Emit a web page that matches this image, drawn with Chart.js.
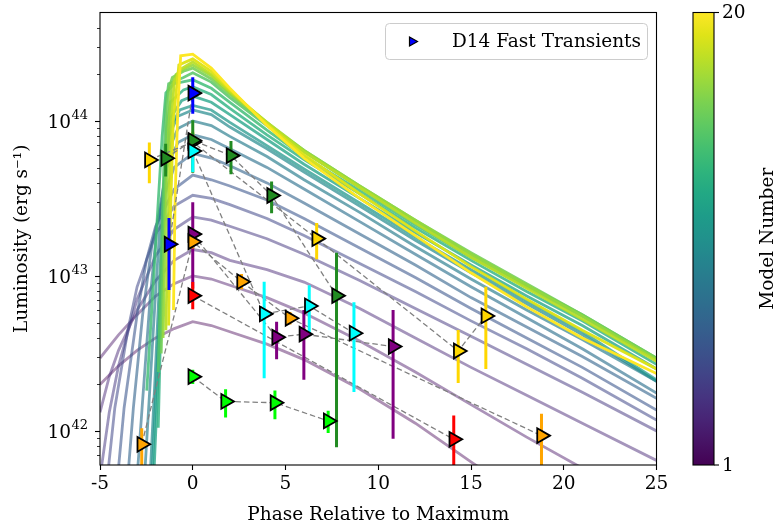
<!DOCTYPE html>
<html>
<head>
<meta charset="utf-8">
<script src="https://cdn.jsdelivr.net/npm/chart.js@4.4.1/dist/chart.umd.min.js"></script>
<style>
  html, body { margin: 0; padding: 0; background: #fff; }
</style>
</head>
<body>
<canvas id="lcChart" width="777" height="527"></canvas>
<script>
const FONT = "'DejaVu Serif', 'Liberation Serif', serif";

// axis ticks
const xTicks = [-5, 0, 5, 10, 15, 20, 25];
const yTicks = [7e41, 8e41, 9e41, 1e42, 2e42, 3e42, 4e42, 5e42, 6e42, 7e42, 8e42, 9e42,
  1e43, 2e43, 3e43, 4e43, 5e43, 6e43, 7e43, 8e43, 9e43, 1e44, 2e44, 3e44, 4e44];
const cbarTicks = [1, 20];

// model light curves, [phase (d), log10 L]
const m01 = [[-5, 42.30], [-4, 42.42], [-3, 42.52], [-2, 42.60], [-1, 42.66], [0, 42.705], [1, 42.68], [2, 42.64], [4, 42.56], [6, 42.46], [9, 42.27], [12, 42.05], [15, 41.80], [18, 41.56], [21, 41.33], [25, 41.05]];
const m02 = [[-5, 42.47], [-4, 42.62], [-3, 42.75], [-2, 42.87], [-1, 42.95], [0, 43.00], [1, 42.98], [2, 42.94], [4, 42.86], [6, 42.76], [9, 42.58], [12, 42.38], [15, 42.17], [18, 41.96], [21, 41.76], [25, 41.50]];
const m03 = [[-5, 42.12], [-4.5, 42.35], [-4, 42.52], [-3, 42.78], [-2, 42.97], [-1, 43.10], [0, 43.17], [1, 43.15], [2, 43.10], [4, 43.04], [6, 42.96], [9, 42.79], [12, 42.60], [15, 42.41], [18, 42.23], [21, 42.05], [25, 41.81]];
const m04 = [[-5, 41.70], [-4.5, 42.12], [-4, 42.42], [-3, 42.85], [-2, 43.13], [-1, 43.30], [0, 43.38], [1, 43.36], [2, 43.32], [4, 43.24], [6, 43.14], [9, 42.97], [12, 42.79], [15, 42.61], [18, 42.43], [21, 42.25], [25, 42.00]];
const m05 = [[-4.6, 41.70], [-4.2, 42.15], [-3.5, 42.65], [-3, 42.93], [-2, 43.27], [-1, 43.45], [0, 43.52], [1, 43.50], [2, 43.46], [4, 43.37], [6, 43.26], [9, 43.08], [12, 42.90], [15, 42.71], [18, 42.53], [21, 42.34], [25, 42.07]];
const m06 = [[-4.05, 41.70], [-3.7, 42.15], [-3, 42.75], [-2.5, 43.10], [-2, 43.32], [-1, 43.56], [0, 43.65], [1, 43.62], [2, 43.58], [4, 43.49], [6, 43.37], [9, 43.18], [12, 42.99], [15, 42.79], [18, 42.60], [21, 42.41], [25, 42.135]];
const m07 = [[-3.5, 41.70], [-3.2, 42.15], [-2.7, 42.75], [-2.2, 43.20], [-1.6, 43.50], [-1, 43.70], [0, 43.79], [1, 43.76], [2, 43.71], [4, 43.60], [6, 43.47], [9, 43.27], [12, 43.07], [15, 42.86], [18, 42.67], [21, 42.48], [25, 42.21]];
const m08 = [[-3.0, 41.70], [-2.7, 42.20], [-2.3, 42.85], [-1.9, 43.35], [-1.4, 43.70], [-0.8, 43.86], [0, 43.91], [1, 43.88], [2, 43.82], [4, 43.70], [6, 43.56], [9, 43.35], [12, 43.14], [15, 42.93], [18, 42.73], [21, 42.53], [25, 42.245]];
const m09 = [[-2.6, 41.70], [-2.3, 42.30], [-2, 42.90], [-1.7, 43.45], [-1.35, 43.80], [-0.8, 43.95], [0, 44.00], [1, 43.97], [2, 43.90], [4, 43.77], [6, 43.62], [9, 43.41], [12, 43.19], [15, 42.98], [18, 42.78], [21, 42.59], [25, 42.32]];
const m10 = [[-2.3, 41.70], [-2.05, 42.30], [-1.8, 42.95], [-1.55, 43.55], [-1.3, 43.90], [-0.8, 44.03], [0, 44.07], [1, 44.04], [2, 43.96], [4, 43.82], [6, 43.67], [9, 43.45], [12, 43.23], [15, 43.02], [18, 42.82], [21, 42.62], [25, 42.32]];
const m11 = [[-2.2, 41.70], [-1.95, 42.35], [-1.7, 43.00], [-1.5, 43.60], [-1.25, 43.95], [-0.7, 44.07], [0, 44.10], [1, 44.07], [2, 43.99], [4, 43.84], [6, 43.69], [9, 43.47], [12, 43.25], [15, 43.04], [18, 42.84], [21, 42.64], [25, 42.33]];
const m12 = [[-2.1, 41.70], [-1.85, 42.40], [-1.65, 43.10], [-1.45, 43.70], [-1.2, 44.02], [-0.6, 44.13], [0, 44.16], [1, 44.12], [2, 44.04], [4, 43.88], [6, 43.72], [9, 43.50], [12, 43.28], [15, 43.07], [18, 42.87], [21, 42.68], [25, 42.40]];
const m13 = [[-1.86, 42.02], [-1.7, 42.80], [-1.55, 43.50], [-1.4, 43.95], [-1.2, 44.12], [-0.5, 44.20], [0, 44.22], [1, 44.17], [2, 44.08], [4, 43.91], [6, 43.75], [9, 43.53], [12, 43.31], [15, 43.10], [18, 42.90], [21, 42.71], [25, 42.43]];
const m14 = [[-2.48, 42.26], [-2.2, 42.80], [-1.9, 43.40], [-1.65, 43.90], [-1.45, 44.18], [-1, 44.24], [0, 44.265], [1, 44.21], [2, 44.12], [4, 43.94], [6, 43.77], [9, 43.55], [12, 43.33], [15, 43.12], [18, 42.93], [21, 42.74], [25, 42.46]];
const m15 = [[-1.86, 42.38], [-1.7, 43.10], [-1.55, 43.75], [-1.45, 44.10], [-1.3, 44.24], [-0.5, 44.28], [0, 44.31], [1, 44.25], [2, 44.15], [4, 43.97], [6, 43.80], [9, 43.57], [12, 43.35], [15, 43.14], [18, 42.94], [21, 42.75], [25, 42.47]];
const m16 = [[-1.7, 42.50], [-1.55, 43.30], [-1.42, 43.90], [-1.3, 44.20], [-1.1, 44.28], [-0.5, 44.32], [0, 44.34], [1, 44.27], [2, 44.17], [4, 43.98], [6, 43.81], [9, 43.58], [12, 43.36], [15, 43.15], [18, 42.95], [21, 42.75], [25, 42.47]];
const m17 = [[-1.6, 42.60], [-1.45, 43.40], [-1.3, 43.95], [-1.15, 44.22], [-0.9, 44.30], [-0.4, 44.34], [0, 44.36], [1, 44.29], [2, 44.18], [4, 43.99], [6, 43.81], [9, 43.58], [12, 43.36], [15, 43.14], [18, 42.94], [21, 42.74], [25, 42.46]];
const m18 = [[-1.45, 42.65], [-1.3, 43.45], [-1.15, 44.00], [-1.0, 44.25], [-0.7, 44.33], [0, 44.38], [1, 44.30], [2, 44.19], [4, 43.99], [6, 43.80], [9, 43.57], [12, 43.34], [15, 43.12], [18, 42.92], [21, 42.72], [25, 42.45]];
const m19 = [[-1.3, 42.68], [-1.2, 43.40], [-1.05, 44.00], [-0.75, 44.36], [0, 44.40], [1, 44.32], [2, 44.20], [4, 43.98], [6, 43.78], [9, 43.53], [12, 43.29], [15, 43.06], [18, 42.85], [21, 42.65], [25, 42.40]];
const m20 = [[-1.04, 42.78], [-0.95, 43.50], [-0.8, 44.10], [-0.65, 44.42], [0, 44.43], [1, 44.34], [2, 44.21], [4, 43.97], [6, 43.76], [9, 43.50], [12, 43.26], [15, 43.02], [18, 42.80], [21, 42.60], [25, 42.37]];
const modelCurves = [m01, m02, m03, m04, m05, m06, m07, m08, m09, m10,
  m11, m12, m13, m14, m15, m16, m17, m18, m19, m20];

// fast transients: phase (d), L (erg/s), lower / upper error
const blueT = [-1.28, 0];
const blueL = [1.60e43, 1.51e44];
const blueLo = [8.1e42, 1.11e44];
const blueHi = [2.36e43, 1.91e44];

const goldT = [-2.34, 0, 6.68, 14.31, 15.8];
const goldL = [5.60e43, 7.3e43, 1.74e43, 3.28e42, 5.52e42];
const goldLo = [3.96e43, 6.3e43, 1.28e43, 2.04e42, 2.51e42];
const goldHi = [7.24e43, 8.5e43, 2.19e43, 4.47e42, 8.51e42];

const greenT = [-1.46, 0, 2.06, 4.25, 7.75];
const greenL = [5.74e43, 7.48e43, 5.97e43, 3.30e43, 7.46e42];
const greenLo = [4.37e43, 4.63e43, 4.53e43, 2.54e43, 7.85e41];
const greenHi = [7.11e43, 1.01e44, 7.41e43, 4.06e43, 1.41e43];

const cyanT = [0, 3.85, 6.28, 8.69];
const cyanL = [6.40e43, 5.69e42, 6.40e42, 4.27e42];
const cyanLo = [4.68e43, 2.19e42, 4.27e42, 1.78e42];
const cyanHi = [7.9e43, 9.18e42, 8.71e42, 6.76e42];

const purpleT = [0, 4.52, 5.99, 10.8];
const purpleL = [1.86e43, 4.02e42, 4.21e42, 3.50e42];
const purpleLo = [8.3e42, 2.90e42, 2.14e42, 8.9e41];
const purpleHi = [2.99e43, 5.07e42, 6.03e42, 6.03e42];

const orangeT = [-2.75, 0, 2.63, 5.24, 18.8];
const orangeL = [8.2e41, 1.66e43, 9.18e42, 5.33e42, 9.33e41];
const orangeLo = [5.6e41, 1.5e43, 8.2e42, 4.86e42, 5.9e41];
const orangeHi = [1.04e42, 1.84e43, 1.03e43, 5.85e42, 1.29e42];

const redT = [0, 14.07];
const redL = [7.46e42, 8.83e41];
const redLo = [6.1e42, 5.9e41];
const redHi = [9.12e42, 1.26e42];

const limeT = [0, 1.77, 4.43, 7.3];
const limeL = [2.24e42, 1.55e42, 1.52e42, 1.16e42];
const limeLo = [2.01e42, 1.22e42, 1.19e42, 9.7e41];
const limeHi = [2.48e42, 1.86e42, 1.82e42, 1.35e42];

const transients = [
  { color: '#0000ff', t: blueT, L: blueL, lo: blueLo, hi: blueHi },
  { color: '#ffd700', t: goldT, L: goldL, lo: goldLo, hi: goldHi },
  { color: '#228b22', t: greenT, L: greenL, lo: greenLo, hi: greenHi },
  { color: '#00ffff', t: cyanT, L: cyanL, lo: cyanLo, hi: cyanHi },
  { color: '#800080', t: purpleT, L: purpleL, lo: purpleLo, hi: purpleHi },
  { color: '#ffa500', t: orangeT, L: orangeL, lo: orangeLo, hi: orangeHi },
  { color: '#ff0000', t: redT, L: redL, lo: redLo, hi: redHi },
  { color: '#00ff00', t: limeT, L: limeL, lo: limeLo, hi: limeHi },
];

// viridis colormap
const viridisHex = ['#440154', '#471365', '#482475', '#463480', '#414487', '#3b528b', '#355f8d',
  '#2f6c8e', '#2a788e', '#25848e', '#21918c', '#1e9c89', '#22a884', '#2fb47c', '#44bf70',
  '#5ec962', '#7ad151', '#9bd93c', '#bddf26', '#dfe318', '#fde725'];

function hexRGB(h) {
  return [1, 3, 5].map(i => parseInt(h.slice(i, i + 2), 16));
}

function viridis(t, a) {
  const s = Math.min(Math.max(t, 0), 1) * (viridisHex.length - 1);
  const i = Math.min(Math.floor(s), viridisHex.length - 2);
  const f = s - i;
  const c0 = hexRGB(viridisHex[i]);
  const c1 = hexRGB(viridisHex[i + 1]);
  const c = c0.map((v, k) => Math.round(v + (c1[k] - v) * f));
  return `rgba(${c[0]},${c[1]},${c[2]},${a})`;
}

const nModels = modelCurves.length;

const modelSets = modelCurves.map((pts, k) => {
  const n = k + 1;
  return {
    data: pts.map(p => ({ x: p[0], y: Math.pow(10, p[1]) })),
    borderColor: viridis((n - 1) / (nModels - 1), Math.min(1, 0.4 + 0.03 * n)),
    borderWidth: 2.8,
    pointRadius: 0,
    tension: 0,
    clip: 0,
    order: 300 - n,
  };
});

const dashSets = [];
const errSets = [];
const markerSets = [];
transients.forEach((obj, k) => {
  const pts = obj.t.map((t, i) => ({ x: t, y: obj.L[i] }));
  dashSets.push({
    data: pts,
    borderColor: '#808080',
    borderWidth: 1.3,
    borderDash: [5.5, 3],
    pointRadius: 0,
    clip: 0,
    order: 200 - k,
  });
  obj.t.forEach((t, i) => {
    errSets.push({
      data: [{ x: t, y: obj.lo[i] }, { x: t, y: obj.hi[i] }],
      borderColor: obj.color,
      borderWidth: 3,
      borderCapStyle: 'butt',
      pointRadius: 0,
      clip: 0,
      order: 100 - k,
    });
  });
  markerSets.push({
    data: pts,
    showLine: false,
    pointStyle: 'triangle',
    pointRotation: 90,
    pointRadius: 8.5,
    pointBackgroundColor: obj.color,
    pointBorderColor: '#000',
    pointBorderWidth: 1.8,
    order: 20 - k,
  });
});

// spines, y ticks with power-of-ten labels, legend and colorbar
const frame = {
  id: 'frame',
  afterDatasetsDraw(chart) {
    const { ctx, chartArea: a } = chart;
    const y = chart.scales.y;
    ctx.save();
    ctx.strokeStyle = '#000';
    ctx.fillStyle = '#000';
    yTicks.forEach(v => {
      const py = Math.round(y.getPixelForValue(v)) + 0.5;
      const e = Math.log10(v);
      const major = Math.abs(e - Math.round(e)) < 1e-6;
      ctx.lineWidth = major ? 1.1 : 0.8;
      ctx.beginPath();
      ctx.moveTo(a.left, py);
      ctx.lineTo(a.left - (major ? 5 : 3), py);
      ctx.stroke();
      if (major) {
        ctx.textBaseline = 'middle';
        ctx.textAlign = 'right';
        ctx.font = `13px ${FONT}`;
        const exp = String(Math.round(e));
        const ew = ctx.measureText(exp).width;
        ctx.fillText(exp, a.left - 12, py - 6);
        ctx.font = `18.5px ${FONT}`;
        ctx.fillText('10', a.left - 12 - ew - 0.5, py + 2);
      }
    });
    ctx.lineWidth = 1.1;
    ctx.strokeRect(a.left, a.top, a.right - a.left, a.bottom - a.top);
    ctx.restore();
  },
  afterDraw(chart) {
    const { ctx, chartArea: a } = chart;
    ctx.save();

    // legend
    const lx = 385, ly = 23, lw = 262, lh = 36;
    ctx.fillStyle = 'rgba(255,255,255,0.8)';
    ctx.strokeStyle = '#cccccc';
    ctx.lineWidth = 1;
    ctx.beginPath();
    ctx.roundRect(lx + 0.5, ly + 0.5, lw, lh, 4);
    ctx.fill();
    ctx.stroke();
    const mx = 413, my = ly + lh / 2 + 0.5;
    ctx.beginPath();
    ctx.moveTo(mx + 4.5, my);
    ctx.lineTo(mx - 3.5, my - 4.5);
    ctx.lineTo(mx - 3.5, my + 4.5);
    ctx.closePath();
    ctx.fillStyle = '#0000ff';
    ctx.fill();
    ctx.strokeStyle = '#000';
    ctx.lineWidth = 1.2;
    ctx.stroke();
    ctx.fillStyle = '#000';
    ctx.font = `18.5px ${FONT}`;
    ctx.textAlign = 'left';
    ctx.textBaseline = 'middle';
    ctx.fillText('D14 Fast Transients', 452, my + 1);

    // colorbar
    const cx = 693, cw = 21, ct = a.top, cb = a.bottom;
    const grad = ctx.createLinearGradient(0, cb, 0, ct);
    viridisHex.forEach((c, i) => grad.addColorStop(i / (viridisHex.length - 1), c));
    ctx.fillStyle = grad;
    ctx.fillRect(cx, ct, cw, cb - ct);
    ctx.strokeStyle = '#000';
    ctx.lineWidth = 1.1;
    ctx.strokeRect(cx, ct, cw, cb - ct);
    ctx.fillStyle = '#000';
    ctx.font = `18.5px ${FONT}`;
    ctx.textAlign = 'left';
    ctx.textBaseline = 'middle';
    cbarTicks.forEach(v => {
      const py = cb - (v - cbarTicks[0]) / (cbarTicks[1] - cbarTicks[0]) * (cb - ct);
      ctx.beginPath();
      ctx.moveTo(cx + cw, py);
      ctx.lineTo(cx + cw + 5, py);
      ctx.stroke();
      ctx.fillText(String(v), cx + cw + 8, py + 1);
    });
    ctx.translate(768, (ct + cb) / 2);
    ctx.rotate(-Math.PI / 2);
    ctx.textAlign = 'center';
    ctx.fillText('Model Number', 0, 0);
    ctx.restore();
  },
};

new Chart(document.getElementById('lcChart'), {
  type: 'line',
  data: { datasets: [...markerSets, ...errSets, ...dashSets, ...modelSets] },
  options: {
    responsive: false,
    animation: false,
    devicePixelRatio: 1,
    layout: { padding: { left: 0, right: 120.5, top: 12.5, bottom: 0 } },
    plugins: { legend: { display: false }, tooltip: { enabled: false } },
    scales: {
      x: {
        type: 'linear',
        min: -5,
        max: 25,
        afterBuildTicks: s => { s.ticks = xTicks.map(v => ({ value: v })); },
        afterFit: s => { s.height = 62; },
        ticks: {
          callback: v => String(v),
          color: '#000',
          font: { family: FONT, size: 18.5 },
          padding: 3,
          maxRotation: 0,
        },
        grid: { drawOnChartArea: false, tickLength: 5, tickColor: '#000', tickWidth: 1.1 },
        border: { display: false },
        title: {
          display: true,
          text: 'Phase Relative to Maximum',
          color: '#000',
          font: { family: FONT, size: 18.5 },
          padding: { top: 0, bottom: 1 },
        },
      },
      y: {
        type: 'logarithmic',
        min: 6.03e41,
        max: 5.0e44,
        afterBuildTicks: s => { s.ticks = yTicks.map(v => ({ value: v })); },
        afterFit: s => { s.width = 100; },
        ticks: { display: false },
        grid: { display: false },
        border: { display: false },
        title: {
          display: true,
          text: 'Luminosity (erg s\u207B\u00B9)',
          color: '#000',
          font: { family: FONT, size: 18.5 },
          padding: { top: 11, bottom: 0 },
        },
      },
    },
  },
  plugins: [frame],
});
</script>
</body>
</html>
